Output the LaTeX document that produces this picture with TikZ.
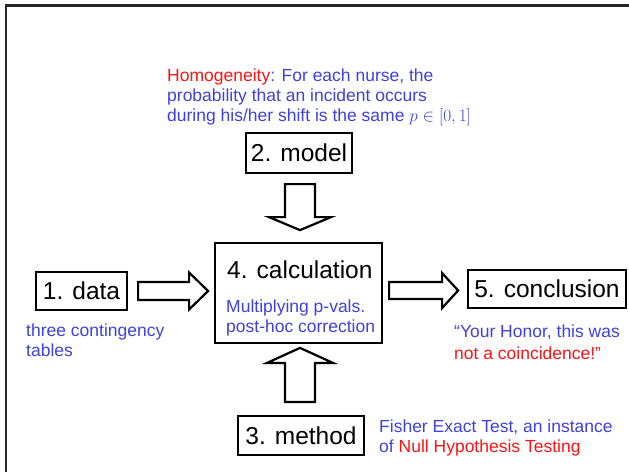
\documentclass[tikz,border=0pt]{standalone}
\usepackage{fontspec}
\setmainfont{Liberation Sans}
\usetikzlibrary{calc}
\definecolor{noteblue}{RGB}{64,64,220}
\definecolor{notered}{RGB}{250,20,20}

\begin{document}
\begin{tikzpicture}[x=1pt,y=-1pt,
  stagebox/.style={draw=black, line width=2.2pt, inner sep=0pt,
    font=\fontsize{24.5}{29}\selectfont},
  stagetitle/.style={anchor=base west, inner sep=0pt,
    font=\fontsize{24.5}{29}\selectfont},
  note/.style={anchor=north west, inner sep=0pt, align=left, text=noteblue,
    font=\fontsize{17.5}{20}\selectfont},
  hollow/.style={draw=black, line width=2.2pt, fill=white, line join=miter},
  % hollow block arrow: shaft length, shaft half width, head half width, head length
  pics/fatarrow/.style n args={4}{code={
    \draw[hollow] (0,-#2) -- (#1,-#2) -- (#1,-#3) -- ({#1+#4},0)
      -- (#1,#3) -- (#1,#2) -- (0,#2) -- cycle;}}
]
\useasboundingbox (0,0) rectangle (629,472);

% frame along the top and left edges
\draw[line width=2.5pt, black!85] (6,472) -- (6,5.5) -- (629,5.5);

% stages
\node[stagebox, minimum width=91pt, minimum height=38pt] (data) at (81.5,291) {1. data};
\node[stagebox, minimum width=106pt, minimum height=40pt] (model) at (299,153) {2. model};
\node[stagebox, minimum width=126pt, minimum height=39pt] (method) at (301,435.5) {3. method};
\node[stagebox, minimum width=158pt, minimum height=38pt] (concl) at (547,289) {5. conclusion};
\node[draw=black, line width=2.2pt, inner sep=0pt, minimum width=167pt,
  minimum height=100pt] (calc) at (298.5,293) {};
\node[stagetitle] (calctitle) at (227,278) {4. calculation};
\node[note] (calcnote) at (226,300) {Multiplying p-vals.\\post-hoc correction};

% block arrows between the stages
\pic at ($(data.east)+(10,0)$) {fatarrow={51}{9}{18.5}{19}};
\pic at ($(calc.east)+(6,-2.5)$) {fatarrow={53}{8.5}{17.5}{16}};
\pic[rotate=-90] at ($(model.south)+(1,10)$) {fatarrow={33}{15}{31}{13}};
\pic[rotate=90] at ($(method.north)+(-1,-13)$) {fatarrow={39}{15}{33}{15}};

% annotations
\node[note] (modelnote) at (167,68.2)
  {\textcolor{notered}{Homogeneity}: For each nurse, the\\probability that an incident occurs\\during his/her shift is the same $p\in[0,1]$};
\node[note] (datanote) at (26,324) {three contingency\\tables};
\node[note, font=\fontsize{17.5}{21.5}\selectfont] (conclnote) at (454,325)
  {“Your Honor, this was\\\textcolor{notered}{not a coincidence!”}};
\node[note] (methodnote) at (379,420)
  {Fisher Exact Test, an instance\\of \textcolor{notered}{Null Hypothesis Testing}};
\end{tikzpicture}
\end{document}
